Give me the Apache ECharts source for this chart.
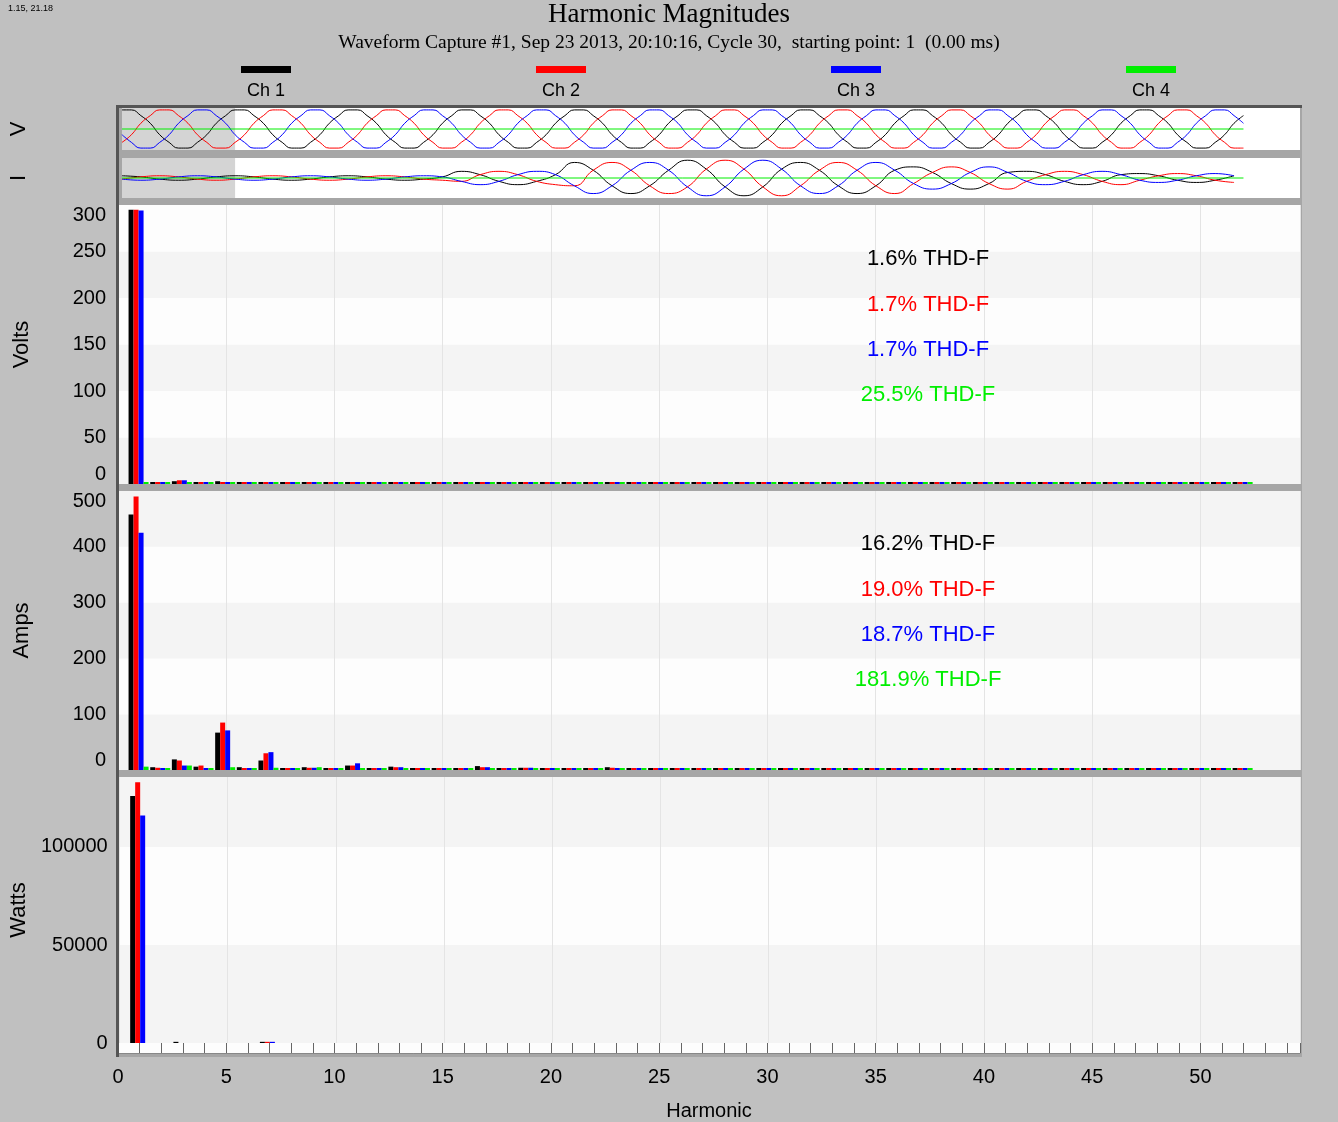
<!doctype html>
<html>
<head>
<meta charset="UTF-8">
<title>Harmonic Magnitudes</title>
<script src="https://cdn.jsdelivr.net/npm/echarts@6/dist/echarts.min.js"></script>
<style>
  html, body { margin: 0; padding: 0; background: #c0c0c0; }
  #chart { width: 1338px; height: 1122px; }
</style>
</head>
<body>
<div id="chart"></div>
<script>
// channel names and colours
var channels = ['Ch 1', 'Ch 2', 'Ch 3', 'Ch 4'];
var colors = ['#000000', '#ff0000', '#0000ff', '#00ee00'];

// harmonic orders 1..52
var harmonics = [];
for (var h = 1; h <= 52; h++) harmonics.push(h);

// Volts per harmonic
var volts1 = [295,1,3,1,3,1,2,1,2,1, 1,1,2,1,1,1,1,1,1,1, 1,1,1,1,1,1,1,1,1,1, 1,1,1,1,1,1,1,1,1,1, 1,1,1,1,1,1,1,1,1,1, 1,1];
var volts2 = [295,1,4,1,2,1,2,1,1,1, 2,1,1,1,1,1,1,1,1,1, 1,1,1,1,1,1,1,1,1,1, 1,1,1,1,1,1,1,1,1,1, 1,1,1,1,1,1,1,1,1,1, 1,1];
var volts3 = [294,1,4,1,2,1,1,1,1,1, 2,1,1,1,1,1,1,1,1,1, 1,1,1,1,1,1,1,1,1,1, 1,1,1,1,1,1,1,1,1,1, 1,1,1,1,1,1,1,1,1,1, 1,1];
var volts4 = [1,1,1,1,1,1,1,1,1,1, 1,1,1,1,1,1,1,1,1,1, 1,1,1,1,1,1,1,1,1,1, 1,1,1,1,1,1,1,1,1,1, 1,1,1,1,1,1,1,1,1,1, 1,1];

// Amps per harmonic
var amps1 = [458,5,19,6,67,5,17,2,5,3, 8,2,6,2,2,2,7,2,4,2, 2,2,5,2,3,2,2,2,2,2, 2,2,2,2,2,2,2,2,2,2, 2,2,2,2,2,2,2,2,2,2, 2,2];
var amps2 = [490,4,17,8,85,3,30,3,4,2, 8,2,5,2,2,2,5,2,4,2, 2,2,4,2,3,2,2,2,2,2, 2,2,2,2,2,2,2,2,2,2, 2,2,2,2,2,2,2,2,2,2, 2,2];
var amps3 = [425,1,8,3,71,3,32,2,4,1, 12,1,5,2,2,2,5,2,4,2, 2,2,3,2,3,2,2,2,2,2, 2,2,2,2,2,2,2,2,2,2, 2,2,2,2,2,2,2,2,2,2, 2,2];
var amps4 = [6,1,8,1,5,1,4,1,5,1, 2,1,2,1,1,1,1,1,1,1, 1,1,1,1,1,1,1,1,1,1, 1,1,1,1,1,1,1,1,1,1, 1,1,1,1,1,1,1,1,1,1, 1,1];

// Watts per harmonic
var watts1 = [126000,0,600,0,0,0,600,0,0,0, 0,0,0,0,0,0,0,0,0,0, 0,0,0,0,0,0,0,0,0,0, 0,0,0,0,0,0,0,0,0,0, 0,0,0,0,0,0,0,0,0,0, 0,0];
var watts2 = [133000,0,0,0,0,0,600,0,0,0, 0,0,0,0,0,0,0,0,0,0, 0,0,0,0,0,0,0,0,0,0, 0,0,0,0,0,0,0,0,0,0, 0,0,0,0,0,0,0,0,0,0, 0,0];
var watts3 = [116000,0,0,0,0,0,600,0,0,0, 0,0,0,0,0,0,0,0,0,0, 0,0,0,0,0,0,0,0,0,0, 0,0,0,0,0,0,0,0,0,0, 0,0,0,0,0,0,0,0,0,0, 0,0];
var watts4 = [0,0,0,0,0,0,0,0,0,0, 0,0,0,0,0,0,0,0,0,0, 0,0,0,0,0,0,0,0,0,0, 0,0,0,0,0,0,0,0,0,0, 0,0,0,0,0,0,0,0,0,0, 0,0];

// THD texts
var thdVolts = ['1.6% THD-F', '1.7% THD-F', '1.7% THD-F', '25.5% THD-F'];
var thdAmps = ['16.2% THD-F', '19.0% THD-F', '18.7% THD-F', '181.9% THD-F'];

// voltage waveform, 12 samples per cycle, 10 cycles
var wv1 = [10,10,7,3,-3,-7,-10,-10,-7,-3,3,7, 10,10,7,3,-3,-7,-10,-10,-7,-3,3,7, 10,10,7,3,-3,-7,-10,-10,-7,-3,3,7, 10,10,7,3,-3,-7,-10,-10,-7,-3,3,7, 10,10,7,3,-3,-7,-10,-10,-7,-3,3,7,
           10,10,7,3,-3,-7,-10,-10,-7,-3,3,7, 10,10,7,3,-3,-7,-10,-10,-7,-3,3,7, 10,10,7,3,-3,-7,-10,-10,-7,-3,3,7, 10,10,7,3,-3,-7,-10,-10,-7,-3,3,7, 10,10,7,3,-3,-7,-10,-10,-7,-3,3,7];
var wv2 = [-7,-3,3,7,10,10,7,3,-3,-7,-10,-10, -7,-3,3,7,10,10,7,3,-3,-7,-10,-10, -7,-3,3,7,10,10,7,3,-3,-7,-10,-10, -7,-3,3,7,10,10,7,3,-3,-7,-10,-10, -7,-3,3,7,10,10,7,3,-3,-7,-10,-10,
           -7,-3,3,7,10,10,7,3,-3,-7,-10,-10, -7,-3,3,7,10,10,7,3,-3,-7,-10,-10, -7,-3,3,7,10,10,7,3,-3,-7,-10,-10, -7,-3,3,7,10,10,7,3,-3,-7,-10,-10, -7,-3,3,7,10,10,7,3,-3,-7,-10,-10];
var wv3 = [-3,-7,-10,-10,-7,-3,3,7,10,10,7,3, -3,-7,-10,-10,-7,-3,3,7,10,10,7,3, -3,-7,-10,-10,-7,-3,3,7,10,10,7,3, -3,-7,-10,-10,-7,-3,3,7,10,10,7,3, -3,-7,-10,-10,-7,-3,3,7,10,10,7,3,
           -3,-7,-10,-10,-7,-3,3,7,10,10,7,3, -3,-7,-10,-10,-7,-3,3,7,10,10,7,3, -3,-7,-10,-10,-7,-3,3,7,10,10,7,3, -3,-7,-10,-10,-7,-3,3,7,10,10,7,3, -3,-7,-10,-10,-7,-3,3,7,10,10,7,3];
var wv4 = [0, 0];

// current waveform, 6 samples per cycle, 10 cycles
var wi1 = [2,1,-1,-2,-1,1, 2,1,-1,-2,-1,1, 2,1,-1,-2,-1,1, 6,3,-3,-6,-3,3, 14,7,-7,-14,-7,7,
           16,8,-8,-16,-8,8, 14,7,-7,-14,-7,7, 10,5,-5,-10,-5,5, 6,3,-3,-6,-3,3, 4,2,-2,-4,-2,2];
var wi2 = [-1,1,2,1,-1,-2, -1,1,2,1,-1,-2, -1,1,2,1,-1,-2, -3,3,6,3,-3,-6, -7,7,14,7,-7,-14,
           -8,8,16,8,-8,-16, -7,7,14,7,-7,-14, -5,5,10,5,-5,-10, -3,3,6,3,-3,-6, -2,2,4,2,-2,-4];
var wi3 = [-1,-2,-1,1,2,1, -1,-2,-1,1,2,1, -1,-2,-1,1,2,1, -3,-6,-3,3,6,3, -7,-14,-7,7,14,7,
           -8,-16,-8,8,16,8, -7,-14,-7,7,14,7, -5,-10,-5,5,10,5, -3,-6,-3,3,6,3, -2,-4,-2,2,4,2];
var wi4 = [0, 0];

var FONT = '"Liberation Sans", Arial, sans-serif';

function pairs(arr, step) {
  return arr.map(function (v, i) { return [i * step, v]; });
}
function flat(arr) { return [[0, arr[0]], [119, arr[1]]]; }
function barData(arr) {
  return arr.map(function (v, i) { return [harmonics[i] - 0.05, v]; });
}

var L = 118, W = 1182;
var grids = [
  { left: L, width: W, top: 108, height: 42 },
  { left: L, width: W, top: 158, height: 40 },
  { left: L, width: W, top: 205, height: 279 },
  { left: L, width: W, top: 491, height: 279 },
  { left: L, width: W, top: 777, height: 266 },
  { left: L, width: W, top: 1043, height: 12 }
].map(function (g) {
  g.show = true; g.backgroundColor = '#fdfdfd'; g.borderWidth = 0; return g;
});
grids[0].backgroundColor = '#ffffff';
grids[1].backgroundColor = '#ffffff';

var xAxes = [0, 1].map(function (i) {
  return { type: 'value', gridIndex: i, min: 0, max: 125, show: false };
});
for (var g = 2; g < 6; g++) {
  var last = g === 5;
  xAxes.push({
    type: 'value', gridIndex: g, min: 0, max: 54.6, interval: 5,
    axisLine: { show: last, lineStyle: { color: '#888' } },
    axisTick: { show: last, inside: true, length: 10, lineStyle: { color: '#666' } },
    minorTick: { show: last, splitNumber: 5, length: 10, lineStyle: { color: '#666' } },
    axisLabel: { show: last, fontFamily: FONT, fontSize: 20, color: '#000', margin: 14,
      formatter: function (v) { return v <= 50 ? v : ''; } },
    splitLine: { show: true, lineStyle: { color: '#e4e4e4' } },
    name: last ? 'Harmonic' : '', nameLocation: 'middle', nameGap: 48,
    nameTextStyle: { fontFamily: FONT, fontSize: 20, color: '#000' }
  });
}

function valAxis(gi, min, max, interval, name) {
  return {
    type: 'value', gridIndex: gi, min: min, max: max, interval: interval,
    axisLine: { show: false }, axisTick: { show: false },
    axisLabel: { fontFamily: FONT, fontSize: 20, color: '#000', margin: 12,
      verticalAlignMinLabel: 'bottom', verticalAlignMaxLabel: 'top',
      formatter: function (v) { return v % interval === 0 ? v : ''; } },
    splitLine: { show: false },
    splitArea: { show: true, areaStyle: { color: ['#f4f4f4', '#fdfdfd'] } },
    name: name, nameLocation: 'middle', nameGap: 85, nameRotate: 90,
    nameTextStyle: { fontFamily: FONT, fontSize: 22, color: '#000' }
  };
}
var yAxes = [
  { type: 'value', gridIndex: 0, min: -11, max: 11, show: true, axisLine: { show: false },
    axisTick: { show: false }, axisLabel: { show: false }, splitLine: { show: false },
    name: 'V', nameLocation: 'middle', nameGap: 92, nameRotate: 90,
    nameTextStyle: { fontFamily: FONT, fontSize: 22, color: '#000' } },
  { type: 'value', gridIndex: 1, min: -18, max: 18, show: true, axisLine: { show: false },
    axisTick: { show: false }, axisLabel: { show: false }, splitLine: { show: false },
    name: 'I', nameLocation: 'middle', nameGap: 92, nameRotate: 90,
    nameTextStyle: { fontFamily: FONT, fontSize: 22, color: '#000' } },
  valAxis(2, 0, 300, 50, 'Volts'),
  valAxis(3, 0, 500, 100, 'Amps'),
  valAxis(4, 0, 135700, 50000, 'Watts'),
  { type: 'value', gridIndex: 5, show: false }
];
yAxes[4].axisLabel.verticalAlignMinLabel = 'middle';

var series = [];
[wv1, wv2, wv3].forEach(function (d, i) {
  series.push({ type: 'line', xAxisIndex: 0, yAxisIndex: 0, data: pairs(d, 1), smooth: true,
    symbol: 'none', lineStyle: { width: 1, color: colors[i] }, silent: true });
});
series.push({ type: 'line', xAxisIndex: 0, yAxisIndex: 0, data: flat(wv4), symbol: 'none',
  lineStyle: { width: 1, color: colors[3] },
  markArea: { silent: true, itemStyle: { color: 'rgba(170,170,170,0.5)' }, data: [[{ xAxis: 0 }, { xAxis: 12 }]] } });
[wi1, wi2, wi3].forEach(function (d, i) {
  series.push({ type: 'line', xAxisIndex: 1, yAxisIndex: 1, data: pairs(d, 2), smooth: true,
    symbol: 'none', lineStyle: { width: 1, color: colors[i] }, silent: true });
});
series.push({ type: 'line', xAxisIndex: 1, yAxisIndex: 1, data: flat(wi4), symbol: 'none',
  lineStyle: { width: 1, color: colors[3] },
  markArea: { silent: true, itemStyle: { color: 'rgba(170,170,170,0.5)' }, data: [[{ xAxis: 0 }, { xAxis: 12 }]] } });

[[volts1, volts2, volts3, volts4], [amps1, amps2, amps3, amps4], [watts1, watts2, watts3, watts4]]
  .forEach(function (set, p) {
    set.forEach(function (d, c) {
      series.push({ type: 'bar', xAxisIndex: p + 2, yAxisIndex: p + 2, data: barData(d),
        barWidth: 5, barGap: '0%', barMinHeight: p === 2 ? 0 : 2,
        itemStyle: { color: colors[c] }, silent: true });
    });
  });

var graphic = [
  // frame and separators
  { type: 'rect', z: -10, shape: { x: 116, y: 105, width: 1186, height: 952 }, style: { fill: '#a6a6a6' } },
  { type: 'line', z: 100, shape: { x1: 117.5, y1: 105, x2: 117.5, y2: 1057 }, style: { stroke: '#555', lineWidth: 3 } },
  { type: 'line', z: 100, shape: { x1: 116, y1: 106.5, x2: 1302, y2: 106.5 }, style: { stroke: '#555', lineWidth: 3 } },
  { type: 'text', left: 8, top: 4, style: { text: '1.15, 21.18', font: '9px ' + FONT, fill: '#000' } },
  { type: 'text', left: 'center', top: 1, style: { text: 'Harmonic Magnitudes', font: '27px "Liberation Serif", serif', fill: '#000' } },
  { type: 'text', left: 'center', top: 33, style: { text: 'Waveform Capture #1, Sep 23 2013, 20:10:16, Cycle 30,  starting point: 1  (0.00 ms)', font: '19.5px "Liberation Serif", serif', fill: '#000' } }
];
var legX = [266, 561, 856, 1151];
channels.forEach(function (name, i) {
  graphic.push({ type: 'rect', shape: { x: legX[i] - 25, y: 66, width: 50, height: 7 }, style: { fill: colors[i] } });
  graphic.push({ type: 'text', x: legX[i], y: 82, style: { text: name, font: '18px ' + FONT, fill: '#000', textAlign: 'center' } });
});
var thdY1 = [259, 305, 350, 395], thdY2 = [544, 590, 635, 680];
thdVolts.forEach(function (t, i) {
  graphic.push({ type: 'text', z: 100, x: 928, y: thdY1[i], style: { text: t, font: '22px ' + FONT, fill: colors[i], textAlign: 'center', textVerticalAlign: 'middle' } });
});
thdAmps.forEach(function (t, i) {
  graphic.push({ type: 'text', z: 100, x: 928, y: thdY2[i], style: { text: t, font: '22px ' + FONT, fill: colors[i], textAlign: 'center', textVerticalAlign: 'middle' } });
});

var chart = echarts.init(document.getElementById('chart'));
chart.setOption({
  backgroundColor: '#c0c0c0',
  animation: false,
  grid: grids,
  xAxis: xAxes,
  yAxis: yAxes,
  series: series,
  graphic: graphic
});
</script>
</body>
</html>
